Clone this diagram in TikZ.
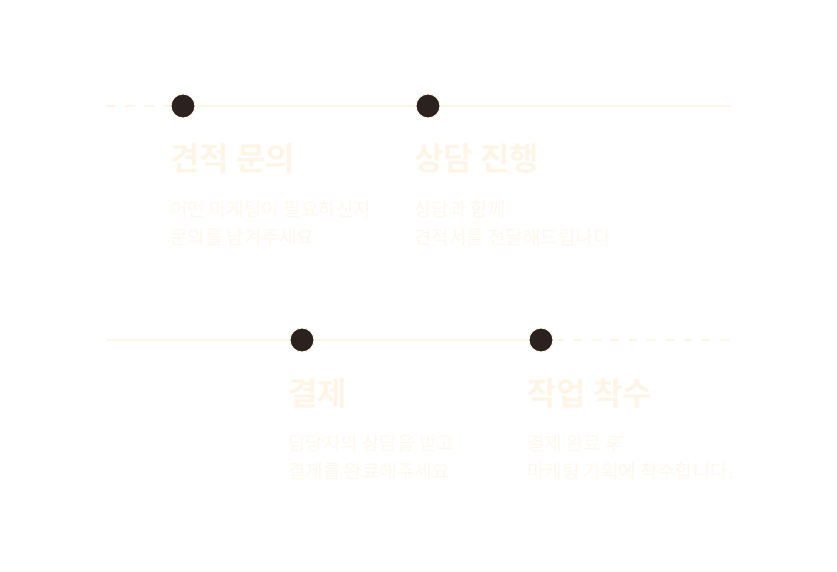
\documentclass[tikz,border=0pt]{standalone}
\usepackage{fontspec}
\setmainfont{Noto Sans CJK KR}
\newfontfamily\titlefont{Noto Sans CJK KR Bold}
\newfontfamily\subfont{Noto Sans CJK KR}
\definecolor{linecol}{HTML}{FDF5E6}
\definecolor{titlecol}{HTML}{FEF5E6}
\definecolor{subcol}{HTML}{FEF8EE}
\definecolor{dotcol}{HTML}{2B2220}
\begin{document}
\begin{tikzpicture}[x=1pt,y=-1pt,
  dotnode/.style={circle,fill=dotcol,draw=linecol,line width=1pt,minimum size=24pt,inner sep=0pt},
  solidline/.style={draw=linecol,line width=2pt},
  dashline/.style={draw=linecol,line width=2pt,dash pattern=on 9.5pt off 9.5pt},
  dashlineb/.style={draw=linecol,line width=2pt,dash pattern=on 8.5pt off 9.8pt,dash phase=-2pt},
  titletext/.style={anchor=base west,inner sep=0pt,text=titlecol,font=\titlefont\fontsize{32}{36}\selectfont},
  subtext/.style={anchor=base west,inner sep=0pt,text=subcol,align=left,font=\subfont\fontsize{19}{28}\selectfont}]
\useasboundingbox (0,0) rectangle (837,572);
% top row
\coordinate (ls1) at (106,106);
\coordinate (le1) at (731,106);
\node[dotnode] (d1) at (183,106) {};
\node[dotnode] (d2) at (428,106) {};
\draw[dashline] (ls1) -- (d1);
\draw[solidline] (d1) -- (d2);
\draw[solidline] (d2) -- (le1);
\node[titletext] (t1) at (170,171) {견적 문의};
\node[subtext] (s1) at (170,244) {어떤 마케팅이 필요하신지\\문의를 남겨주세요};
\node[titletext] (t2) at (414,171) {상담 진행};
\node[subtext] (s2) at (414,244) {상담과 함께\\견적서를 전달해드립니다};
% bottom row
\coordinate (ls2) at (107,340);
\coordinate (le2) at (731,340);
\node[dotnode] (d3) at (302,340) {};
\node[dotnode] (d4) at (541,340) {};
\draw[solidline] (ls2) -- (d3);
\draw[solidline] (d3) -- (d4);
\draw[dashlineb] (d4) -- (le2);
\node[titletext] (t3) at (288,405) {결제};
\node[subtext] (s3) at (288,478) {담당자의 상담을 받고\\결제를 완료해주세요};
\node[titletext] (t4) at (527,405) {작업 착수};
\node[subtext] (s4) at (527,478) {결제 완료 후\\마케팅 기획에 착수합니다.};
\end{tikzpicture}
\end{document}
